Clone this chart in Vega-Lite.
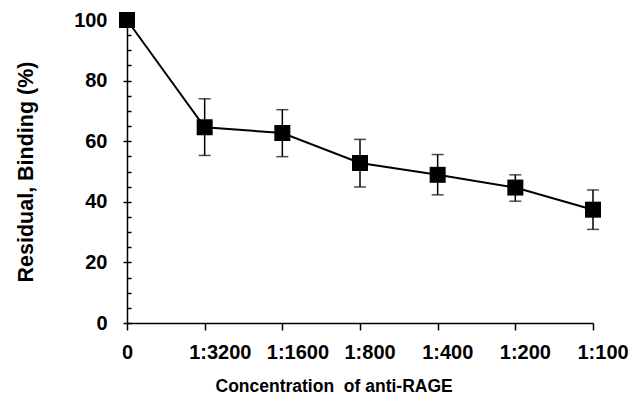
{
  "$schema": "https://vega.github.io/schema/vega-lite/v6.json",
  "autosize": {"type": "none"},
  "width": 466,
  "height": 303,
  "padding": {"left": 127, "top": 20, "right": 42, "bottom": 91},
  "background": "white",
  "config": {
    "view": {"stroke": null},
    "font": "Liberation Sans",
    "axis": {"labelFont": "Liberation Sans", "titleFont": "Liberation Sans", "labelFontWeight": "bold", "titleFontWeight": "bold", "labelColor": "black", "titleColor": "black", "domainColor": "black", "tickColor": "black", "grid": false}
  },
  "data": {"values": [
    {"conc": "0", "binding": 100, "low": 100, "high": 100},
    {"conc": "1:3200", "binding": 64.6, "low": 55.3, "high": 74.0},
    {"conc": "1:1600", "binding": 62.7, "low": 54.9, "high": 70.4},
    {"conc": "1:800", "binding": 52.8, "low": 44.9, "high": 60.6},
    {"conc": "1:400", "binding": 48.9, "low": 42.3, "high": 55.6},
    {"conc": "1:200", "binding": 44.7, "low": 40.2, "high": 48.9},
    {"conc": "1:100", "binding": 37.4, "low": 30.9, "high": 43.9}
  ]},
  "encoding": {
    "x": {"field": "conc", "type": "ordinal",
      "scale": {"type": "point", "padding": 0, "domain": ["0", "1:3200", "1:1600", "1:800", "1:400", "1:200", "1:100"]},
      "axis": {"title": "Concentration\u00a0 of anti-RAGE", "labelAngle": 0, "labelFontSize": 20, "titleFontSize": 17.5,
        "titleAnchor": "start", "titleAlign": "left", "titleX": 88,
        "labelAlign": {"condition": {"test": "datum.label === '0'", "value": "center"}, "value": "left"},
        "labelOffset": {"condition": {"test": "datum.label === '0'", "value": 0}, "value": -16},
        "tickSize": 7, "tickWidth": 1.5, "domainWidth": 1.5, "labelPadding": 12, "titlePadding": 15}}
  },
  "layer": [
    {
      "mark": {"type": "rule", "color": "black", "strokeWidth": 1.5},
      "encoding": {
        "y": {"field": "low", "type": "quantitative", "scale": {"domain": [0, 100]},
          "axis": {"title": "Residual, Binding (%)", "orient": "left", "values": [0, 20, 40, 60, 80, 100], "labelFontSize": 20, "titleFontSize": 21.5, "tickSize": 4, "tickWidth": 1.5, "domainWidth": 1.5, "labelPadding": 16, "titlePadding": 36}},
        "y2": {"field": "high"}
      }
    },
    {
      "mark": {"type": "tick", "color": "black", "thickness": 1.5, "size": 12, "orient": "horizontal"},
      "encoding": {"y": {"field": "low", "type": "quantitative", "axis": null}}
    },
    {
      "mark": {"type": "tick", "color": "black", "thickness": 1.5, "size": 12, "orient": "horizontal"},
      "encoding": {"y": {"field": "high", "type": "quantitative", "axis": null}}
    },
    {
      "mark": {"type": "line", "color": "black", "strokeWidth": 2},
      "encoding": {"y": {"field": "binding", "type": "quantitative", "axis": null}}
    },
    {
      "mark": {"type": "point", "shape": "square", "filled": true, "color": "black", "opacity": 1, "size": 256},
      "encoding": {"y": {"field": "binding", "type": "quantitative",
        "axis": {"title": null, "orient": "left", "values": [0, 5, 10, 15, 20, 25, 30, 35, 40, 45, 50, 55, 60, 65, 70, 75, 80, 85, 90, 95, 100], "labels": false, "domain": false, "tickSize": -4, "tickWidth": 1.5}}}
    }
  ],
  "resolve": {"axis": {"y": "independent"}}
}
